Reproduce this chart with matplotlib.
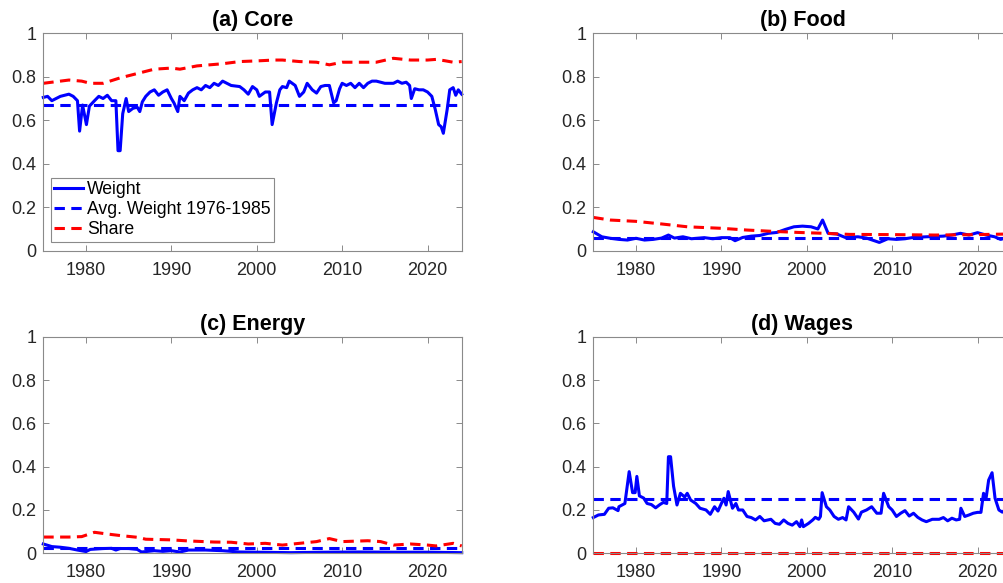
import numpy as np
import matplotlib
matplotlib.use('Agg')
import matplotlib.pyplot as plt

plt.rcParams['font.family'] = ['Liberation Sans', 'DejaVu Sans']

# ---- (a) Core ----
core_t = [1975.0, 1975.5, 1976.0, 1977.0, 1978.0, 1978.5, 1979.0, 1979.25, 1979.6, 1980.05,
          1980.4, 1981.0, 1981.5, 1982.0, 1982.5, 1983.0, 1983.5, 1983.75, 1984.0, 1984.3,
          1984.7, 1985.0, 1985.5, 1986.0, 1986.3, 1986.6, 1987.0, 1987.5, 1988.0, 1988.5,
          1989.0, 1989.5, 1990.0, 1990.3, 1990.75, 1991.0, 1991.5, 1992.0, 1992.5, 1993.0,
          1993.5, 1994.0, 1994.5, 1995.0, 1995.5, 1996.0, 1996.5, 1997.0, 1998.0, 1998.5,
          1999.0, 1999.5, 2000.0, 2000.3, 2001.0, 2001.5, 2001.8, 2002.3, 2002.7, 2003.0,
          2003.5, 2003.8, 2004.5, 2005.0, 2005.5, 2005.9, 2006.5, 2007.0, 2007.5, 2008.0,
          2008.5, 2009.0, 2009.3, 2009.7, 2010.0, 2010.5, 2011.0, 2011.5, 2012.0, 2012.5,
          2013.0, 2013.5, 2014.0, 2015.0, 2016.0, 2016.5, 2017.0, 2017.5, 2017.9, 2018.1,
          2018.5, 2019.0, 2019.5, 2020.0, 2020.5, 2020.9, 2021.3, 2021.6, 2021.85, 2022.3,
          2022.6, 2023.0, 2023.3, 2023.6, 2024.0]
core_w = [0.705, 0.71, 0.69, 0.71, 0.72, 0.71, 0.69, 0.55, 0.67, 0.58,
          0.665, 0.69, 0.71, 0.70, 0.715, 0.69, 0.69, 0.46, 0.46, 0.63,
          0.70, 0.64, 0.655, 0.66, 0.64, 0.685, 0.71, 0.73, 0.74, 0.715,
          0.73, 0.74, 0.70, 0.68, 0.64, 0.71, 0.69, 0.725, 0.74, 0.75,
          0.74, 0.76, 0.75, 0.77, 0.76, 0.78, 0.77, 0.76, 0.755, 0.74,
          0.72, 0.755, 0.74, 0.71, 0.73, 0.73, 0.58, 0.68, 0.74, 0.755,
          0.75, 0.78, 0.76, 0.71, 0.73, 0.77, 0.74, 0.725, 0.755, 0.76,
          0.76, 0.68, 0.69, 0.745, 0.77, 0.76, 0.77, 0.75, 0.77, 0.75,
          0.77, 0.78, 0.78, 0.77, 0.77, 0.78, 0.77, 0.775, 0.76, 0.70,
          0.745, 0.74, 0.74, 0.73, 0.71, 0.65, 0.58, 0.57, 0.54, 0.65,
          0.74, 0.75, 0.715, 0.74, 0.72]
core_avg = 0.67
core_st = [1975, 1978, 1979.5, 1980.5, 1982, 1984, 1986, 1988, 1990, 1991, 1993, 1996, 1998,
           2000, 2002, 2003, 2005, 2007, 2008.5, 2010, 2012, 2014, 2016, 2018, 2020, 2021,
           2022, 2023, 2024]
core_s = [0.77, 0.785, 0.78, 0.77, 0.77, 0.795, 0.815, 0.835, 0.84, 0.835, 0.85, 0.86, 0.87,
          0.873, 0.877, 0.877, 0.87, 0.867, 0.855, 0.867, 0.867, 0.867, 0.885, 0.877, 0.877, 0.88,
          0.874, 0.867, 0.87]

# ---- (b) Food ----
food_t = [1975, 1976, 1977, 1978, 1979, 1980, 1981, 1982, 1983, 1983.8, 1984.5, 1985.5,
          1986.5, 1988, 1989, 1990, 1991, 1991.6, 1992.5, 1993.5, 1994.5, 1995.5, 1996.5,
          1997.5, 1998.5, 1999.5, 2000.5, 2001.3, 2001.85, 2002.5, 2003.5, 2004.5, 2006,
          2007, 2008.5, 2009.5, 2010.5, 2011.5, 2012.5, 2014, 2016, 2017, 2018, 2019, 2020,
          2021, 2022, 2022.7, 2023.5, 2024]
food_w = [0.087, 0.064, 0.057, 0.052, 0.049, 0.057, 0.049, 0.052, 0.058, 0.072, 0.058, 0.064,
          0.055, 0.06, 0.055, 0.06, 0.06, 0.046, 0.061, 0.067, 0.07, 0.08, 0.084,
          0.098, 0.11, 0.113, 0.11, 0.10, 0.141, 0.08, 0.077, 0.061, 0.064,
          0.058, 0.038, 0.055, 0.052, 0.055, 0.061, 0.064, 0.067, 0.072, 0.08, 0.072, 0.083,
          0.072, 0.064, 0.052, 0.061, 0.061]
food_avg = 0.058
food_st = [1975, 1977, 1980, 1983, 1986, 1990, 1993, 1996, 1999, 2002, 2005, 2010, 2015, 2020, 2024]
food_s = [0.153, 0.141, 0.135, 0.123, 0.11, 0.103, 0.095, 0.089, 0.084, 0.08, 0.075, 0.074,
          0.072, 0.074, 0.077]

# ---- (c) Energy ----
energy_t = [1975, 1976, 1977, 1978, 1979, 1980, 1980.5, 1982, 1983, 1983.5, 1984, 1985, 1986,
            1986.5, 1988, 1989, 1990, 1991, 1992, 1994, 1996, 1998, 2000, 2004, 2008, 2012,
            2016, 2020, 2024]
energy_w = [0.043, 0.031, 0.028, 0.023, 0.015, 0.008, 0.018, 0.022, 0.023, 0.015, 0.022, 0.022,
            0.018, 0.006, 0.012, 0.009, 0.012, 0.006, 0.015, 0.015, 0.012, 0.006, 0.005, 0.003,
            0.005, 0.006, 0.005, 0.005, 0.003]
energy_avg = 0.023
energy_st = [1975, 1978, 1979.5, 1981, 1982.5, 1984, 1986, 1987, 1990, 1992, 1995, 1997, 1999,
             2001, 2003, 2005, 2007, 2008.5, 2010, 2013, 2014.5, 2016, 2018, 2020, 2021, 2023, 2024]
energy_s = [0.075, 0.075, 0.077, 0.097, 0.089, 0.082, 0.074, 0.065, 0.062, 0.057, 0.052, 0.051,
            0.043, 0.046, 0.038, 0.046, 0.054, 0.068, 0.054, 0.058, 0.054, 0.038, 0.043, 0.038,
            0.034, 0.046, 0.034]

# ---- (d) Wages ----
wage_t = [1975.0, 1975.6, 1976.3, 1976.8, 1977.3, 1977.9, 1978.0, 1978.7, 1979.2, 1979.6,
          1979.9, 1980.1, 1980.4, 1980.9, 1981.3, 1981.8, 1982.3, 1982.8, 1983.2, 1983.6,
          1983.8, 1984.05, 1984.4, 1984.8, 1985.2, 1985.7, 1986.0, 1986.4, 1987.0, 1987.5,
          1988.2, 1988.7, 1989.2, 1989.6, 1990.0, 1990.3, 1990.55, 1990.8, 1991.3, 1991.7,
          1992.0, 1992.5, 1993.0, 1993.5, 1994.0, 1994.5, 1995.0, 1995.8, 1996.3, 1996.8,
          1997.3, 1997.8, 1998.3, 1998.8, 1999.2, 1999.4, 1999.6, 2000.2, 2000.7, 2001.0,
          2001.4, 2001.6, 2001.8, 2002.3, 2002.7, 2003.2, 2003.7, 2004.2, 2004.6, 2004.9,
          2005.5, 2006.05, 2006.4, 2007.0, 2007.6, 2008.2, 2008.7, 2009.0, 2009.6, 2010.0,
          2010.5, 2011.0, 2011.5, 2012.0, 2012.5, 2013.0, 2013.5, 2014.0, 2014.7, 2015.5,
          2016.0, 2016.5, 2017.0, 2017.5, 2017.9, 2018.05, 2018.5, 2019.0, 2019.5, 2020.0,
          2020.4, 2020.7, 2021.0, 2021.3, 2021.7, 2022.05, 2022.5, 2022.9, 2023.5, 2024.0]
wage_w = [0.165, 0.177, 0.18, 0.208, 0.21, 0.197, 0.215, 0.23, 0.377, 0.28,
          0.28, 0.355, 0.265, 0.255, 0.23, 0.225, 0.21, 0.225, 0.235, 0.23,
          0.446, 0.446, 0.31, 0.223, 0.277, 0.26, 0.277, 0.246, 0.23, 0.208,
          0.2, 0.18, 0.215, 0.195, 0.23, 0.254, 0.223, 0.285, 0.208, 0.23,
          0.2, 0.2, 0.17, 0.165, 0.154, 0.17, 0.15, 0.157, 0.138, 0.134,
          0.154, 0.138, 0.13, 0.146, 0.123, 0.154, 0.123, 0.138, 0.154, 0.166,
          0.157, 0.17, 0.28, 0.215, 0.2, 0.17, 0.157, 0.165, 0.154, 0.215,
          0.19, 0.158, 0.19, 0.2, 0.215, 0.185, 0.185, 0.277, 0.215, 0.2,
          0.17, 0.185, 0.197, 0.172, 0.185, 0.166, 0.154, 0.146, 0.157, 0.157,
          0.165, 0.15, 0.162, 0.154, 0.157, 0.208, 0.17, 0.177, 0.185, 0.189,
          0.189, 0.277, 0.254, 0.338, 0.372, 0.254, 0.2, 0.19, 0.21, 0.225]
wage_avg = 0.249
wage_st = [1975, 2024]
wage_s = [0.0, 0.0]

panels = [
    ('(a) Core', core_t, core_w, core_avg, core_st, core_s),
    ('(b) Food', food_t, food_w, food_avg, food_st, food_s),
    ('(c) Energy', energy_t, energy_w, energy_avg, energy_st, energy_s),
    ('(d) Wages', wage_t, wage_w, wage_avg, wage_st, wage_s),
]

W, H = 1004, 583
fig = plt.figure(figsize=(W / 100, H / 100), dpi=100)

# axes boxes in pixels: left, top, right, bottom
boxes = [(43.3, 33.3, 461.7, 250.7), (593.3, 33.3, 1011.7, 250.7),
         (43.3, 336.7, 461.7, 553.3), (593.3, 336.7, 1011.7, 553.3)]

dash = (3.4, 2.1)
gray = '#8a8a8a'
for (title, t, w, avg, st, s), (l, tp, r, b) in zip(panels, boxes):
    ax = fig.add_axes([l / W, (H - b) / H, (r - l) / W, (b - tp) / H])
    ax.plot(t, w, color='#0000ff', lw=2.2, label='Weight', clip_on=False)
    ax.plot([1975, 2024], [avg, avg], color='#0000ff', lw=2.2, dashes=dash,
            label='Avg. Weight 1976-1985', clip_on=False)
    ax.plot(st, s, color='#ff0000', lw=2.2, dashes=dash, label='Share', clip_on=False)
    ax.set_xlim(1975, 2024)
    ax.set_ylim(0, 1)
    ax.set_xticks([1980, 1990, 2000, 2010, 2020])
    ax.set_yticks([0, 0.2, 0.4, 0.6, 0.8, 1])
    ax.set_yticklabels(['0', '0.2', '0.4', '0.6', '0.8', '1'])
    ax.tick_params(direction='in', top=True, right=True, length=4, width=0.7,
                   color=gray, labelsize=13, labelcolor='#262626')
    ax.tick_params(axis='x', pad=8)
    ax.tick_params(axis='y', pad=5)
    for sp in ax.spines.values():
        sp.set_color(gray)
        sp.set_linewidth(0.8)
    ax.set_title(title, fontsize=15.5, fontweight='bold', pad=5)
    if title.startswith('(a)'):
        leg = ax.legend(loc='lower left', bbox_to_anchor=(0.018, 0.04), fontsize=12.7,
                        handlelength=1.6, handletextpad=0.25, labelspacing=0.18,
                        borderpad=0.2, borderaxespad=0, fancybox=False, framealpha=1)
        leg.get_frame().set_edgecolor(gray)
        leg.get_frame().set_linewidth(0.8)

fig.savefig('out.png', dpi=100)
